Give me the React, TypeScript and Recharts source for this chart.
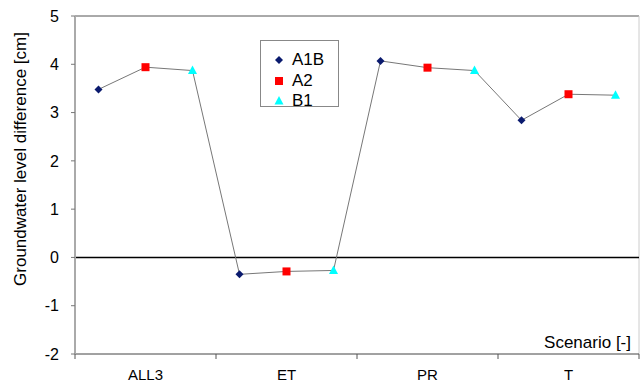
import { ComposedChart, Line, ReferenceLine, XAxis, YAxis } from "recharts";

const categories = ["ALL3", "ET", "PR", "T"];
const scenarios = ["A1B", "A2", "B1"];
const a1b = [3.48, -0.35, 4.07, 2.84];
const a2 = [3.94, -0.29, 3.93, 3.38];
const b1 = [3.87, -0.27, 3.87, 3.36];
const yTicks = [-2, -1, 0, 1, 2, 3, 4, 5];

const colors: Record<string, string> = { A1B: "#0a1a6e", A2: "#ff0000", B1: "#00ffff" };
const series = [a1b, a2, b1];

// one row per point, in drawing order: ALL3 A1B, ALL3 A2, ALL3 B1, ET A1B ...
const data = categories.flatMap((cat, ci) =>
  scenarios.map((sc, si) => ({ pos: ci * 3 + si + 0.5, cat, scenario: sc, value: series[si][ci] }))
);

// category boundaries and centres on the 0..12 scale
const xTicks = categories.flatMap((_, i) => [i * 3, i * 3 + 1.5]).concat([categories.length * 3]);

const font = "'Liberation Sans', Arial, sans-serif";

function Marker({ scenario, cx, cy }: { scenario: string; cx: number; cy: number }) {
  const c = colors[scenario];
  if (scenario === "A1B")
    return <polygon points={`${cx},${cy - 4} ${cx + 4},${cy} ${cx},${cy + 4} ${cx - 4},${cy}`} fill={c} />;
  if (scenario === "A2") return <rect x={cx - 4} y={cy - 4} width={8} height={8} fill={c} />;
  return <polygon points={`${cx},${cy - 5} ${cx + 4.5},${cy + 3.5} ${cx - 4.5},${cy + 3.5}`} fill={c} />;
}

function XTick(props: any) {
  const { x, y, payload } = props;
  const v = payload.value;
  if (v % 3 === 0) return <line x1={x} y1={y} x2={x} y2={y + 5} stroke="#555" />;
  const name = categories[Math.floor(v / 3)];
  return (
    <text x={x} y={y + 26} textAnchor="middle" fontSize={15} fill="#000" fontFamily={font}>
      {name}
    </text>
  );
}

function LegendBox() {
  return (
    <div
      style={{
        position: "absolute",
        left: 260,
        top: 40,
        width: 79,
        height: 67,
        border: "1px solid #888",
        background: "#fff",
        boxSizing: "border-box",
        paddingTop: 9,
        fontFamily: font,
        fontSize: 17,
      }}
    >
      {scenarios.map((s) => (
        <div key={s} style={{ display: "flex", alignItems: "center", height: 20.5 }}>
          <svg width={31} height={20}>
            <Marker scenario={s} cx={18} cy={10} />
          </svg>
          <span>{s}</span>
        </div>
      ))}
    </div>
  );
}

export default function App() {
  return (
    <div style={{ position: "absolute", left: 0, top: 0, width: 641, height: 383, background: "#fff" }}>
      <ComposedChart width={641} height={383} data={data} margin={{ top: 16, right: 2, left: 0, bottom: 0 }}>
        <XAxis
          dataKey="pos"
          type="number"
          domain={[0, 12]}
          ticks={xTicks}
          interval={0}
          tick={<XTick />}
          tickLine={false}
          tickSize={0}
          tickMargin={0}
          axisLine={{ stroke: "#444" }}
          height={29}
          label={{
            content: ({ viewBox }: any) => (
              <text x={viewBox.x + viewBox.width - 8} y={viewBox.y - 6} textAnchor="end" fontSize={17} fontFamily={font} fill="#000">
                Scenario [-]
              </text>
            ),
          }}
        />
        <YAxis
          type="number"
          domain={[-2, 5]}
          ticks={yTicks}
          interval={0}
          width={75}
          tickSize={4}
          tickMargin={12}
          tick={{ fontSize: 16, fill: "#000", fontFamily: font }}
          tickLine={{ stroke: "#777" }}
          axisLine={{ stroke: "#aaa", strokeWidth: 2 }}
          label={{
            content: () => (
              <text x={26} y={159} transform="rotate(-90 26 159)" textAnchor="middle" fontSize={17} fontFamily={font} fill="#000">
                Groundwater level difference [cm]
              </text>
            ),
          }}
        />
        <ReferenceLine y={5} stroke="#555" />
        <ReferenceLine x={12} stroke="#ccc" />
        <ReferenceLine y={0} stroke="#000" strokeWidth={1.5} />
        <Line
          dataKey="value"
          stroke="#777"
          strokeWidth={1}
          isAnimationActive={false}
          legendType="none"
          dot={(p: any) => <Marker key={p.index} scenario={p.payload.scenario} cx={p.cx} cy={p.cy} />}
          activeDot={false}
        />
      </ComposedChart>
      <LegendBox />
    </div>
  );
}
